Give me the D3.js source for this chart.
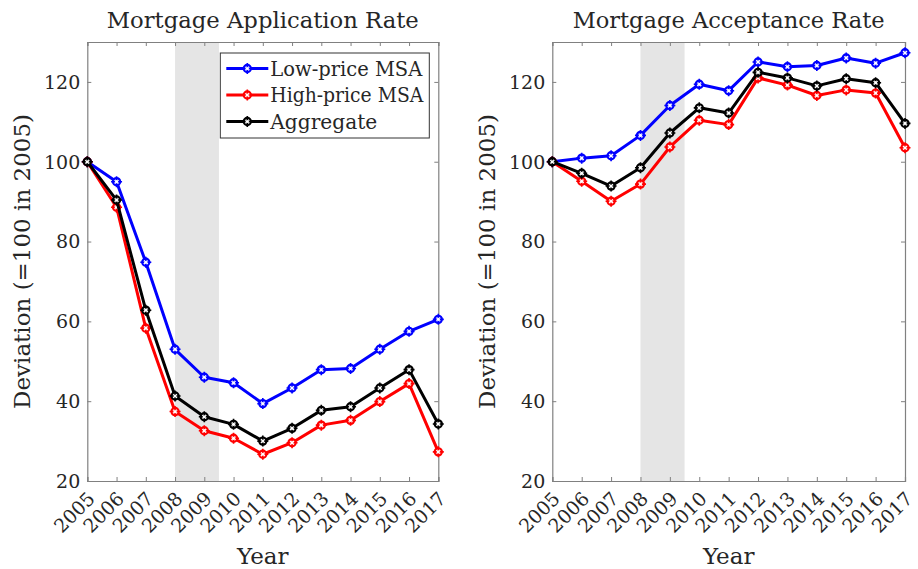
<!DOCTYPE html>
<html>
<head>
<meta charset="utf-8">
<script src="https://cdn.jsdelivr.net/npm/d3@7"></script>
<style>
body{margin:0;background:#fff;}
text{font-family:"DejaVu Serif",serif;fill:#262626;}
</style>
</head>
<body>
<svg id="chart" width="918" height="569"></svg>
<script>
const years = [2005,2006,2007,2008,2009,2010,2011,2012,2013,2014,2015,2016,2017];
const yTicks = [20,40,60,80,100,120];
const seriesNames = ["Low-price MSA","High-price MSA","Aggregate"];
const seriesColors = ["#0000ff","#ff0000","#000000"];
const recession = [2008, 2009.5];

// Mortgage Application Rate
const appLow  = [100,95,74.8,53,46,44.6,39.4,43.3,47.9,48.2,53,57.5,60.5];
const appHigh = [100,88.6,58.3,37.4,32.6,30.7,26.7,29.6,34,35.2,39.9,44.4,27.3];
const appAgg  = [100,90.4,62.8,41.3,36.1,34.2,30,33.2,37.7,38.6,43.3,47.9,34.3];

// Mortgage Acceptance Rate
const accLow  = [100,100.9,101.5,106.6,114.1,119.4,117.8,125,123.8,124.1,126,124.7,127.3];
const accHigh = [100,95.1,90.1,94.4,103.7,110.4,109.3,121,119.2,116.6,118,117.2,103.5];
const accAgg  = [100,97.1,93.9,98.5,107.2,113.5,112.2,122.4,121,119,120.8,119.8,109.6];

const svg = d3.select("#chart");
const axisColor = "#808080";

function panel(x0, x1, title, data, legend){
  const top = 42, bottom = 481;
  const x = d3.scaleLinear().domain([2005,2017]).range([x0,x1]);
  const y = d3.scaleLinear().domain([20,130]).range([bottom,top]);
  const g = svg.append("g");

  // recession shading
  g.append("rect").attr("x", x(recession[0])).attr("y", top)
    .attr("width", x(recession[1]) - x(recession[0])).attr("height", bottom - top)
    .attr("fill", "#e5e5e5");

  // axes (box with inward ticks)
  const tl = 4;
  const ax = g.append("g").attr("transform", `translate(0,${bottom})`)
    .call(d3.axisBottom(x).tickValues(years).tickSize(-tl).tickFormat(""));
  const axT = g.append("g").attr("transform", `translate(0,${top})`)
    .call(d3.axisTop(x).tickValues(years).tickSize(-tl).tickFormat(""));
  const ayL = g.append("g").attr("transform", `translate(${x0},0)`)
    .call(d3.axisLeft(y).tickValues(yTicks).tickSize(-tl).tickFormat(""));
  const ayR = g.append("g").attr("transform", `translate(${x1},0)`)
    .call(d3.axisRight(y).tickValues(yTicks).tickSize(-tl).tickFormat(""));
  [ax,axT,ayL,ayR].forEach(a=>{
    a.selectAll("path").attr("stroke", axisColor).attr("stroke-width",1.2);
    a.selectAll("line").attr("stroke", axisColor).attr("stroke-width",1);
  });

  // y tick labels
  g.selectAll(".ylab").data(yTicks).enter().append("text")
    .attr("x", x0 - 7).attr("y", d => y(d)).attr("dy","0.36em")
    .attr("text-anchor","end").attr("font-size",19).text(d=>d);

  // x tick labels rotated
  g.selectAll(".xlab").data(years).enter().append("text")
    .attr("transform", d => `translate(${x(d)+4},${bottom+14}) rotate(-45)`)
    .attr("dy","0.36em").attr("text-anchor","end").attr("font-size",19).text(d=>d);

  // title
  g.append("text").attr("x",(x0+x1)/2).attr("y",28).attr("text-anchor","middle")
    .attr("font-size",23).attr("textLength",312).attr("lengthAdjust","spacingAndGlyphs").text(title);
  // x label
  g.append("text").attr("x",(x0+x1)/2).attr("y",564).attr("text-anchor","middle")
    .attr("font-size",23).text("Year");
  // y label
  g.append("text").attr("transform",`translate(${x0-57},${(top+bottom)/2}) rotate(-90)`)
    .attr("text-anchor","middle").attr("font-size",23)
    .attr("textLength",295).attr("lengthAdjust","spacingAndGlyphs").text("Deviation (=100 in 2005)");

  const line = d3.line().x((d,i)=>x(years[i])).y(d=>y(d));
  [0,1,2].forEach(k=>{
    const vals = data[k];
    g.append("path").datum(vals).attr("d", line).attr("fill","none")
      .attr("stroke", seriesColors[k]).attr("stroke-width",3).attr("stroke-linejoin","round");
    drawMarkers(g, vals.map((v,i)=>[x(years[i]), y(v)]), seriesColors[k]);
  });

  if(legend){
    const lx = x(2005) + 133, ly = 53, lw = 209, lh = 85;
    g.append("rect").attr("x",lx).attr("y",ly).attr("width",lw).attr("height",lh)
      .attr("fill","#fff").attr("stroke","#333").attr("stroke-width",1);
    seriesNames.forEach((n,k)=>{
      const yy = ly + 15.5 + k*26.5;
      g.append("line").attr("x1",lx+6).attr("x2",lx+48).attr("y1",yy).attr("y2",yy)
        .attr("stroke",seriesColors[k]).attr("stroke-width",3);
      drawMarkers(g, [[lx+27, yy]], seriesColors[k]);
      g.append("text").attr("x",lx+50).attr("y",yy).attr("dy","0.36em")
        .attr("font-size",20).attr("textLength", [152,153,107][k]).attr("lengthAdjust","spacingAndGlyphs").text(n);
    });
  }
}

function drawMarkers(g, pts, color){
  const m = g.append("g");
  m.selectAll("circle").data(pts).enter().append("circle")
    .attr("cx",d=>d[0]).attr("cy",d=>d[1]).attr("r",3.6)
    .attr("fill","#fff").attr("stroke",color).attr("stroke-width",2.2);
  m.selectAll(".p").data(pts).enter().append("path")
    .attr("d",d=>`M${d[0]-5.5},${d[1]}H${d[0]+5.5}M${d[0]},${d[1]-5.5}V${d[1]+5.5}`)
    .attr("stroke",color).attr("stroke-width",1.6).attr("fill","none");
  m.selectAll(".c").data(pts).enter().append("circle")
    .attr("cx",d=>d[0]).attr("cy",d=>d[1]).attr("r",1.6).attr("fill","#fff");
}

panel(87.3, 438.3, "Mortgage Application Rate", [appLow, appHigh, appAgg], true);
panel(552.3, 905, "Mortgage Acceptance Rate", [accLow, accHigh, accAgg], false);
</script>
</body>
</html>
